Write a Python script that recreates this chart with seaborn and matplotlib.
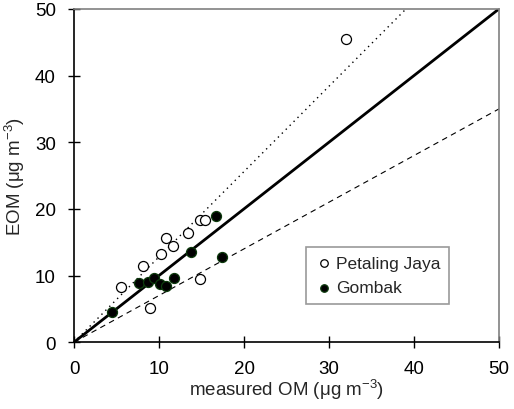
import numpy as np
import pandas as pd
import matplotlib
matplotlib.use('Agg')
import matplotlib.pyplot as plt
import seaborn as sns

sns.set_style('ticks')
plt.rcParams['font.family'] = ['Liberation Sans', 'DejaVu Sans']
plt.rcParams['mathtext.fontset'] = 'custom'
plt.rcParams['mathtext.rm'] = 'Liberation Sans'
plt.rcParams['mathtext.default'] = 'regular'

# ---- data ----
pj_om = [5.5, 8.1, 8.9, 10.2, 10.8, 11.6, 13.4, 14.8, 15.4, 14.8, 32.0]
pj_eom = [8.3, 11.5, 5.2, 13.3, 15.6, 14.5, 16.4, 18.3, 18.4, 9.5, 45.5]
gb_om = [4.5, 7.6, 8.7, 9.4, 10.1, 10.8, 11.8, 13.8, 16.7, 17.4]
gb_eom = [4.6, 8.9, 9.0, 9.7, 8.7, 8.5, 9.7, 13.6, 18.9, 12.8]
sites = ['Petaling Jaya', 'Gombak']
ref_slopes = [1.28, 1.0, 0.7]

df = pd.DataFrame({
    'om': pj_om + gb_om,
    'eom': pj_eom + gb_eom,
    'site': [sites[0]] * len(pj_om) + [sites[1]] * len(gb_om),
})

fig = plt.figure(figsize=(5.14, 4.10), dpi=100)
ax = fig.add_axes([0.144, 0.163, 0.827, 0.813])

# reference lines
xs = np.array([0, 50])
ax.plot(xs, ref_slopes[0] * xs, color='black', lw=1.0, ls=(0, (1, 3)))
ax.plot(xs, ref_slopes[1] * xs, color='black', lw=2.0)
ax.plot(xs, ref_slopes[2] * xs, color='black', lw=0.8, ls=(0, (5, 4)))

sns.scatterplot(data=df[df.site == sites[0]], x='om', y='eom', ax=ax,
                marker='o', s=52, facecolor='white', edgecolor='black',
                linewidth=0.9, label=sites[0], zorder=3)
sns.scatterplot(data=df[df.site == sites[1]], x='om', y='eom', ax=ax,
                marker='o', s=52, facecolor='black', edgecolor='#0c3a0c',
                linewidth=0.9, label=sites[1], zorder=3)

ax.set_xlim(0, 50)
ax.set_ylim(0, 50)
ax.set_xticks(range(0, 51, 10))
ax.set_yticks(range(0, 51, 10))
ax.tick_params(direction='inout', length=8, width=1, labelsize=13.5, pad=9, colors='black')
for side in ['top', 'right']:
    ax.spines[side].set_color('#808080')
    ax.spines[side].set_linewidth(1.2)
for side in ['left', 'bottom']:
    ax.spines[side].set_color('black')
    ax.spines[side].set_linewidth(1.2)

ax.set_xlabel('measured OM (μg m$^{-3}$)', fontsize=13.5, labelpad=0)
ax.set_ylabel('EOM (μg m$^{-3}$)', fontsize=13.5, labelpad=6)

leg = ax.legend(loc='lower right', bbox_to_anchor=(0.882, 0.114), borderaxespad=0,
                fontsize=12.5, frameon=True, fancybox=False, edgecolor='#808080',
                handletextpad=0.2, borderpad=0.5, labelspacing=0.55,
                markerscale=0.75, handlelength=1.0)
leg.get_frame().set_linewidth(1.2)

fig.savefig('out.png', dpi=100)
